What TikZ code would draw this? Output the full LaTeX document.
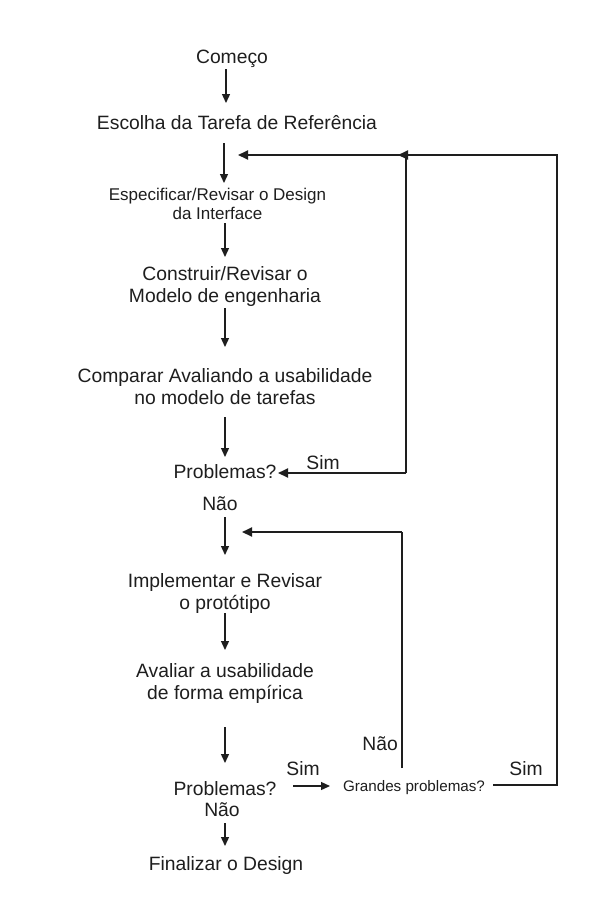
\documentclass[tikz,border=0pt]{standalone}
\usepackage{fontspec}
\setmainfont{Liberation Sans}
\usetikzlibrary{arrows.meta}
\definecolor{ink}{HTML}{1E1E1E}
\tikzset{
  big/.style={font=\fontsize{19.3}{22}\selectfont, inner sep=0pt, text=ink},
  mid/.style={font=\fontsize{17}{19}\selectfont, inner sep=0pt, text=ink},
  small/.style={font=\fontsize{15.2}{18}\selectfont, inner sep=0pt, text=ink},
  twoline/.style={align=center, anchor=north},
  arr/.style={draw=ink, line width=1.3pt, -{Triangle[length=9pt,width=8pt]}},
  loop/.style={draw=ink, line width=1.9pt},
  looparr/.style={draw=ink, line width=1.9pt, -{Triangle[length=10pt,width=9pt]}}
}
\begin{document}
\begin{tikzpicture}[x=1pt,y=-1pt]
\useasboundingbox[fill=white] (0,0) rectangle (614,914);
% text nodes
\node[big, anchor=base] (comeco) at (232,63) {Começo};
\node[big, anchor=base] (escolha) at (237,129) {Escolha da Tarefa de Referência};
\node[mid, twoline] (espec) at (217.5,186.7) {\strut Especificar/Revisar o Design\\da Interface};
\node[big, twoline] (constr) at (225,264.6) {\strut Construir/Revisar o\\Modelo de engenharia};
\node[big, twoline] (compar) at (225,366.6) {\strut Comparar Avaliando a usabilidade\\no modelo de tarefas};
\node[big, anchor=base] (prob1) at (225,478) {Problemas?};
\node[big, anchor=base] (sim1) at (323,469) {Sim};
\node[big, anchor=base] (nao1) at (220,510) {Não};
\node[big, twoline] (impl) at (225,571.6) {\strut Implementar e Revisar\\o protótipo};
\node[big, twoline] (aval) at (225,661.6) {\strut Avaliar a usabilidade\\de forma empírica};
\node[big, anchor=base] (prob2) at (225,795.5) {Problemas?};
\node[big, anchor=base] (nao2) at (222,816) {Não};
\node[big, anchor=base] (sim2) at (303,775) {Sim};
\node[small, anchor=base] (grandes) at (414,791.5) {Grandes problemas?};
\node[big, anchor=base east] (nao3) at (398,750) {Não};
\node[big, anchor=base] (sim3) at (526,775) {Sim};
\node[big, anchor=base] (final) at (226,870) {Finalizar o Design};
% arrow end points
\coordinate (a1s) at (226,69);  \coordinate (a1e) at (226,103);
\coordinate (a2s) at (224,143); \coordinate (a2e) at (224,183);
\coordinate (a3s) at (225,223); \coordinate (a3e) at (225,257);
\coordinate (a4s) at (225,308); \coordinate (a4e) at (225,347);
\coordinate (a5s) at (225,417); \coordinate (a5e) at (225,457);
\coordinate (a6s) at (225,517); \coordinate (a6e) at (225,555);
\coordinate (a7s) at (225,613); \coordinate (a7e) at (225,650);
\coordinate (a8s) at (225,727); \coordinate (a8e) at (225,763);
\coordinate (a9s) at (225,823); \coordinate (a9e) at (225,846);
\coordinate (simS) at (293,786); \coordinate (simE) at (330,786);
% loop corners
\coordinate (gOut) at (493,785);
\coordinate (gR) at (557,785);
\coordinate (topR) at (557,155);
\coordinate (topM) at (398,155);
\coordinate (topL) at (238,155);
\coordinate (p1R) at (406,473);
\coordinate (p1T) at (406,155);
\coordinate (p1L) at (278,473);
\coordinate (nB) at (402,768);
\coordinate (nT) at (402,532);
\coordinate (nL) at (242,532);
% vertical arrows
\draw[arr] (a1s) -- (a1e);
\draw[arr] (a2s) -- (a2e);
\draw[arr] (a3s) -- (a3e);
\draw[arr] (a4s) -- (a4e);
\draw[arr] (a5s) -- (a5e);
\draw[arr] (a6s) -- (a6e);
\draw[arr] (a7s) -- (a7e);
\draw[arr] (a8s) -- (a8e);
\draw[arr] (a9s) -- (a9e);
\draw[arr] (simS) -- (simE);
% loops
\draw[loop] (gOut) -- (gR) -- (topR) -- (topM);
\draw[looparr] (gR |- topR) -- (topM);
\draw[looparr] (topM) -- (topL);
\draw[loop] (p1T) -- (p1R);
\draw[looparr] (p1R) -- (p1L);
\draw[loop] (nB) -- (nT);
\draw[looparr] (nT) -- (nL);
\end{tikzpicture}
\end{document}
